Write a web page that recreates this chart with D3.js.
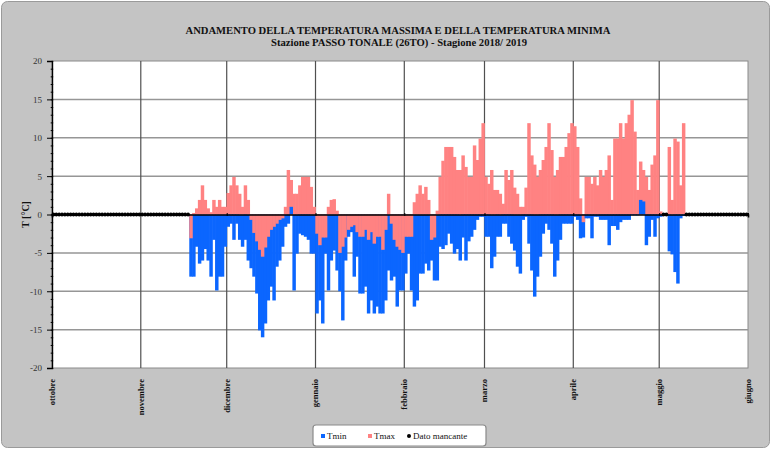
<!DOCTYPE html>
<html>
<head>
<meta charset="utf-8">
<script src="https://cdn.jsdelivr.net/npm/d3@7"></script>
<style>
  html, body { margin: 0; padding: 0; background: #ffffff; }
  svg { display: block; }
  text { font-family: "Liberation Serif", "Times New Roman", serif; }
</style>
</head>
<body>
<svg id="chart" width="771" height="450"></svg>
<script>
// Daily temperatures (°C), Passo Tonale, season 2018/2019.
// First value is 18 Nov 2018; null = missing reading.
const firstDay = new Date(2018, 10, 18);

const tmin = [
  -8.1, -8.1, -4.2, -6.4, -6.0, -4.5, -6.0, -8.1, -3.3, -9.9,
  -8.1, -8.1, -4.2, -1.6, -1.2, -3.3, -1.2, -3.3, -4.2, -3.3,
  -6.0, -7.0, -8.1, -10.3, -15.1, -16.0, -14.2, -11.2, -9.4, -11.2,
  -6.8, -6.0, -4.2, -1.6, -1.2, 1.0, -9.9, -5.1, -2.5, -2.7,
  -2.9, -3.3, -5.1, -5.1, -12.9, -11.2, -14.2, -5.1, -9.9, -6.0,
  -4.7, -7.3, -10.0, -13.8, -6.0, -2.9, -2.3, -8.1, -5.5, -10.3,
  -10.3, -9.4, -12.9, -11.2, -12.9, -12.0, -12.9, -12.9, -11.2, -7.3,
  -8.6, -8.1, -12.0, -9.9, -9.9, -7.7, -5.1, -9.9, -12.0, -11.2,
  -7.7, -7.7, -6.4, -7.3, -6.0, -8.6, -8.6, -4.2, -4.5, -4.0,
  -2.5, -3.8, -5.1, -4.5, -6.0, -3.0, -6.0, -3.5, -2.9, -2.0,
  -0.7, -0.3, -0.3, -2.9, -2.9, -7.0, -5.5, -2.9, -2.9, -1.2,
  -1.2, -2.9, -3.8, -4.7, -6.8, -7.7, -0.7, -0.3, -3.8, -7.3,
  -10.7, -8.1, -5.5, -2.5, -1.2, -2.0, -3.8, -8.1, -6.0, -3.3,
  -1.2, -1.2, -1.2, -1.2, -0.3, -0.7, -3.1, -3.0, -0.5, -0.5,
  -3.1, -0.3, -0.3, -0.7, -0.7, -0.7, -4.0, -1.5, -1.5, -2.0,
  -1.0, -0.7, -0.7, -0.7, -0.1, -0.1, -0.1, 1.9, 1.7, -4.0,
  -2.9, -0.7, -2.9, -0.5, -0.3, null, null, -4.8, -5.2, -7.5,
  -9.0, -0.5, -0.2
];

const tmax = [
  -3.1, 0.2, 0.8, 1.9, 3.8, 1.9, 0.8, 0.3, 1.9, 1.0,
  1.9, 1.0, 1.0, 2.8, 3.8, 4.9, 3.8, 2.7, 1.0, 3.8,
  1.9, -0.7, -2.4, -3.5, -4.6, -5.5, -4.3, -2.9, -2.0, -1.6,
  -1.2, -0.7, -0.5, 1.0, 5.8, 4.5, 2.7, 2.7, 3.8, 4.9,
  4.9, 4.9, 3.6, 1.0, -2.5, -4.0, -3.0, -3.0, 1.0, 1.9,
  2.0, 0.5, -5.0, -4.2, -3.0, -2.0, -1.6, -1.4, -2.3, -2.9,
  -2.9, -2.0, -3.3, -2.3, -3.8, -2.9, -2.9, -4.6, -2.0, 2.7,
  -1.2, -3.3, -4.2, -4.6, -5.0, -2.9, -2.9, -2.9, 1.6, 2.7,
  3.8, 2.7, 3.6, 1.9, -3.3, -3.0, 0.5, 4.9, 7.0, 8.8,
  8.8, 8.8, 7.5, 5.8, 5.8, 7.7, 6.2, 4.9, 4.9, 9.0,
  7.1, 9.9, 11.9, 4.9, 4.0, 5.8, 3.2, 3.2, 2.7, 1.4,
  5.8, 4.5, 5.8, 3.5, 2.7, 1.0, 1.0, 3.5, 11.9, 7.7,
  6.5, 4.9, 5.8, 7.1, 8.8, 11.9, 8.4, 4.9, 5.8, 7.5,
  7.5, 8.8, 10.6, 11.9, 11.5, 8.8, 2.1, -1.0, 4.9, 4.9,
  4.0, 4.9, 3.8, 5.8, 4.9, 5.8, 7.7, 1.9, 9.9, 9.9,
  11.9, 9.9, 11.9, 13.0, 14.9, 10.8, 3.2, 6.9, 5.8, 4.9,
  3.2, 6.5, 7.7, 14.9, 0.4, null, null, 8.8, 1.9, 9.9,
  9.5, 3.8, 11.9
];

const monthLabels = ["ottobre", "novembre", "dicembre", "gennaio", "febbraio",
                     "marzo", "aprile", "maggio", "giugno"];
const yTicks = [-20, -15, -10, -5, 0, 5, 10, 15, 20];

const titleLines = [
  "ANDAMENTO DELLA TEMPERATURA MASSIMA  E DELLA TEMPERATURA MINIMA",
  "Stazione PASSO TONALE (26TO) - Stagione 2018/ 2019"
];
const yTitle = "T [°C]";
const legendItems = ["Tmin", "Tmax", "Dato mancante"];

const colMin = "#0b66ff";
const colMax = "#ff8282";

const svg = d3.select("#chart");
const W = 771, H = 450;

// chart background
svg.append("rect")
  .attr("x", 1.5).attr("y", 1.5).attr("width", W - 3).attr("height", H - 4)
  .attr("rx", 6).attr("fill", "#c4c4c4").attr("stroke", "#9a9a9a").attr("stroke-width", 1);

const plot = { left: 52, right: 748, top: 61, bottom: 368 };

const seasonStart = new Date(2018, 9, 1);
const seasonEnd = new Date(2019, 5, 1);
const x = d3.scaleTime().domain([seasonStart, seasonEnd]).range([plot.left, plot.right]);
const y = d3.scaleLinear().domain([-20, 20]).range([plot.bottom, plot.top]);

// plot area
svg.append("rect")
  .attr("x", plot.left).attr("y", plot.top)
  .attr("width", plot.right - plot.left).attr("height", plot.bottom - plot.top)
  .attr("fill", "#ffffff").attr("stroke", "#8a8a8a").attr("stroke-width", 1);

// horizontal gridlines
svg.append("g").selectAll("line")
  .data(yTicks.filter(v => v !== 0 && v !== 20 && v !== -20))
  .join("line")
  .attr("x1", plot.left).attr("x2", plot.right)
  .attr("y1", d => y(d)).attr("y2", d => y(d))
  .attr("stroke", "#969696").attr("stroke-width", 1.5);

// vertical gridlines at month starts
const monthStarts = d3.timeMonth.range(seasonStart, d3.timeDay.offset(seasonEnd, 1));
svg.append("g").selectAll("line")
  .data(monthStarts.slice(1, -1))
  .join("line")
  .attr("x1", d => x(d)).attr("x2", d => x(d))
  .attr("y1", plot.top).attr("y2", plot.bottom)
  .attr("stroke", "#505050").attr("stroke-width", 1.2);

// day records
const days = tmin.map((v, i) => ({ date: d3.timeDay.offset(firstDay, i), tmin: v, tmax: tmax[i] }));

const bars = [];
days.forEach(d => {
  if (d.tmin != null) bars.push({ date: d.date, v: d.tmin, c: colMin });
  if (d.tmax != null) bars.push({ date: d.date, v: d.tmax, c: colMax });
});
// longer bar first, so the shorter one of each day stays visible
bars.sort((a, b) => Math.abs(b.v) - Math.abs(a.v));

svg.append("g").selectAll("rect")
  .data(bars)
  .join("rect")
  .attr("x", d => x(d.date) - 0.2)
  .attr("width", d => x(d3.timeDay.offset(d.date, 1)) - x(d.date) + 0.6)
  .attr("y", d => Math.min(y(0), y(d.v)))
  .attr("height", d => Math.abs(y(d.v) - y(0)))
  .attr("fill", d => d.c);

// x axis along zero
const xAxis = d3.axisBottom(x)
  .tickValues(monthStarts)
  .tickSize(3)
  .tickFormat("");
const gx = svg.append("g").attr("transform", `translate(0,${y(0)})`).call(xAxis);
gx.select(".domain").attr("stroke", "#000").attr("stroke-width", 1.6);
gx.selectAll(".tick line").attr("stroke", "#000").attr("transform", "translate(0,-1.5)");

// missing-data markers at zero
const byDay = new Map(days.map(d => [+d.date, d]));
const allDays = d3.timeDay.range(seasonStart, seasonEnd);
const missing = allDays.filter(dt => {
  const rec = byDay.get(+dt);
  return !rec || (rec.tmin == null && rec.tmax == null);
});
svg.append("g").selectAll("circle")
  .data(missing)
  .join("circle")
  .attr("cx", d => (x(d) + x(d3.timeDay.offset(d, 1))) / 2)
  .attr("cy", y(0))
  .attr("r", 1.9)
  .attr("fill", "#000");

// y axis
const gyMinor = svg.append("g").attr("transform", `translate(${plot.left},0)`)
  .call(d3.axisLeft(y).tickValues(d3.range(-20, 21, 1)).tickSize(2.5).tickFormat(""));
gyMinor.selectAll(".tick line").attr("stroke", "#000").attr("transform", "translate(1.2,0)");
gyMinor.select(".domain").remove();

const gy = svg.append("g").attr("transform", `translate(${plot.left},0)`)
  .call(d3.axisLeft(y).tickValues(yTicks).tickSize(5).tickFormat(d => String(d)));
gy.select(".domain").attr("stroke", "#000").attr("stroke-width", 1.4);
gy.selectAll(".tick line").attr("stroke", "#000");
gy.selectAll(".tick text")
  .attr("x", -10)
  .attr("font-family", "Liberation Serif, serif")
  .attr("font-size", 9)
  .attr("fill", "#333");

// y axis title
svg.append("text")
  .attr("transform", `translate(25,${y(0)}) rotate(-90)`)
  .attr("text-anchor", "middle")
  .attr("dy", "0.35em")
  .attr("font-size", 10)
  .attr("font-weight", "bold")
  .attr("fill", "#111")
  .text(yTitle);

// month labels below the plot
svg.append("g").selectAll("text")
  .data(monthStarts)
  .join("text")
  .attr("transform", d => `translate(${x(d)},379) rotate(-90)`)
  .attr("text-anchor", "end")
  .attr("dy", "0.35em")
  .attr("font-size", 8.5)
  .attr("font-weight", "bold")
  .attr("fill", "#111")
  .text((d, i) => monthLabels[i]);

// title
svg.append("text")
  .attr("x", 398).attr("y", 34)
  .attr("text-anchor", "middle")
  .attr("font-size", 10).attr("font-weight", "bold").attr("fill", "#111")
  .attr("textLength", 425).attr("lengthAdjust", "spacingAndGlyphs")
  .text(titleLines[0]);
svg.append("text")
  .attr("x", 399).attr("y", 45.5)
  .attr("text-anchor", "middle")
  .attr("font-size", 9.5).attr("font-weight", "bold").attr("fill", "#111")
  .attr("textLength", 256).attr("lengthAdjust", "spacingAndGlyphs")
  .text(titleLines[1]);

// legend
const lg = svg.append("g");
lg.append("rect")
  .attr("x", 313).attr("y", 425).attr("width", 173).attr("height", 21)
  .attr("rx", 3).attr("fill", "#fff").attr("stroke", "#8a8a8a").attr("stroke-width", 1.2);
const legendPos = [323, 370, 409];
const legendCol = [colMin, colMax, "#000"];
legendItems.forEach((t, i) => {
  if (i < 2) {
    lg.append("rect").attr("x", legendPos[i] - 2).attr("y", 434).attr("width", 4).attr("height", 4)
      .attr("fill", legendCol[i]);
  } else {
    lg.append("circle").attr("cx", legendPos[i]).attr("cy", 436).attr("r", 2).attr("fill", "#000");
  }
  lg.append("text")
    .attr("x", legendPos[i] + 4).attr("y", 436)
    .attr("dy", "0.35em")
    .attr("font-size", 9).attr("fill", "#111")
    .text(t);
});
</script>
</body>
</html>
